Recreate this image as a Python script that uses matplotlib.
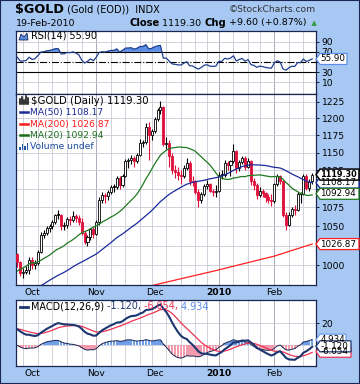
import matplotlib
matplotlib.use("Agg")
import matplotlib.pyplot as plt
import numpy as np
import pandas as pd
from matplotlib.patches import Polygon, Rectangle
from matplotlib.lines import Line2D

W, H = 360, 384

# closes before the visible window (Jul 16 - Sep 23 2009), only used to seed the indicators
pre_closes = [938, 938, 950, 948, 952, 953, 954, 953, 936, 932, 937, 954,
              957, 962, 964, 960, 953, 946, 946, 949, 957, 948, 934, 937, 942, 943, 954,
              948, 943, 945, 948, 956, 953,
              953, 978, 997, 996, 1000, 995, 1006, 1006, 998, 1007, 1020, 1016, 1003,
              1001, 1013, 1014]

holidays = ["2009-11-26", "2009-12-25", "2010-01-01", "2010-01-18", "2010-02-15"]

opens = [1014, 1004, 991, 992, 994, 1007, 1000, 1003, 1017, 1039, 1041, 1048, 1050, 1056,
         1066, 1064, 1050, 1051, 1059, 1058, 1063, 1060, 1056, 1041, 1030, 1036, 1046,
         1040, 1055, 1085, 1091, 1090, 1096, 1103, 1102, 1114, 1105, 1118, 1138, 1140,
         1142, 1138, 1147, 1164, 1165, 1188, 1175,
         1181, 1199, 1212, 1217, 1162, 1164, 1145, 1126, 1123, 1119, 1118, 1128, 1136,
         1110, 1109, 1096, 1085, 1093, 1104, 1106, 1097, 1096,
         1097, 1119, 1119, 1136, 1133, 1138, 1152, 1128, 1137, 1143, 1130, 1139, 1110,
         1105, 1091, 1097, 1094, 1088, 1085,
         1083, 1106, 1118, 1111, 1064, 1052, 1064, 1073, 1071, 1093, 1093, 1117, 1101, 1110]
highs = [1016, 1006, 997, 999, 1011, 1010, 1007, 1019, 1042, 1045, 1050, 1053, 1058, 1066,
         1071, 1066, 1056, 1062, 1063, 1070, 1066, 1064, 1060, 1044, 1039, 1048, 1050,
         1058, 1088, 1095, 1094, 1098, 1105, 1106, 1118, 1117, 1120, 1141, 1143, 1147,
         1146, 1150, 1170, 1168, 1193, 1195, 1185,
         1202, 1215, 1226, 1219, 1173, 1168, 1150, 1133, 1130, 1125, 1132, 1142, 1138,
         1118, 1112, 1100, 1095, 1106, 1112, 1108, 1100, 1105,
         1123, 1125, 1140, 1139, 1140, 1162, 1154, 1140, 1146, 1145, 1142, 1140, 1115,
         1108, 1102, 1100, 1096, 1093, 1092,
         1108, 1120, 1119, 1112, 1068, 1068, 1075, 1078, 1095, 1096, 1120, 1120, 1113, 1122]
lows = [998, 987, 985, 989, 990, 996, 995, 1001, 1015, 1035, 1038, 1042, 1046, 1053,
        1059, 1045, 1045, 1048, 1052, 1056, 1055, 1052, 1038, 1027, 1025, 1032, 1035,
        1038, 1052, 1080, 1080, 1085, 1093, 1096, 1100, 1100, 1102, 1116, 1128, 1134,
        1130, 1135, 1145, 1158, 1163, 1140, 1168,
        1179, 1196, 1206, 1160, 1155, 1130, 1120, 1115, 1112, 1106, 1115, 1125, 1105,
        1104, 1092, 1075, 1080, 1090, 1100, 1095, 1090, 1088,
        1095, 1113, 1116, 1125, 1118, 1136, 1122, 1124, 1134, 1125, 1128, 1105, 1098,
        1086, 1089, 1088, 1082, 1080, 1076,
        1081, 1104, 1106, 1062, 1045, 1050, 1062, 1064, 1070, 1080, 1091, 1098, 1097, 1106]
closes = [1004, 991, 992, 994, 1007, 1000, 1003, 1017, 1039, 1041, 1048, 1050, 1056, 1064,
          1064, 1050, 1051, 1059, 1058, 1063, 1060, 1056, 1041, 1030, 1036, 1046, 1040,
          1055, 1085, 1091, 1090, 1096, 1102, 1102, 1114, 1105, 1118, 1138, 1140, 1142,
          1138, 1147, 1164, 1165, 1188, 1175, 1181,
          1199, 1212, 1217, 1162, 1164, 1145, 1126, 1123, 1119, 1118, 1128, 1136, 1110,
          1109, 1096, 1085, 1093, 1104, 1106, 1097, 1096, 1097,
          1119, 1119, 1136, 1133, 1138, 1152, 1128, 1137, 1143, 1130, 1139, 1110, 1105,
          1091, 1097, 1094, 1088, 1085, 1083,
          1106, 1118, 1111, 1064, 1052, 1064, 1073, 1071, 1093, 1093, 1117, 1101, 1109.7, 1119.3]

# tail of the 200-day average (the part that shows inside the panel)
ma200 = [973.5, 974.3, 975.2, 976.0, 976.9, 977.7, 978.6, 979.4, 980.3, 981.1, 981.9,
         982.8, 983.6, 984.4, 985.3, 986.1, 986.9, 987.8, 988.6, 989.4, 990.3, 991.1,
         991.9, 992.8, 993.6, 994.5, 995.4, 996.3, 997.2, 998.1, 999.0, 999.9, 1000.8,
         1001.7, 1002.6, 1003.5, 1004.4, 1005.3, 1006.2, 1007.1, 1008.0, 1008.9, 1009.8,
         1010.7, 1011.6, 1012.8, 1013.9, 1015.1, 1016.3, 1017.5, 1018.7, 1019.8, 1021.0,
         1022.2, 1023.4, 1024.6, 1025.7, 1026.87]

month_labels = ["Oct", "Nov", "Dec", "2010", "Feb"]
price_ticks = [1000, 1025, 1050, 1075, 1100, 1125, 1150, 1175, 1200, 1225]
price_hidden = [1025, 1100]          # labels sitting under the value tags
rsi_ticks = [10, 30, 50, 70, 90]
macd_ticks = [0, 20]

BG = "#a6c8f2"
NAVY = "#1a2550"
GRID = "#cacad6"
MGRID = "#9c9cae"
RED = "#e0103c"
FONT = 6.6
TAGFONT = 6.3

plt.rcParams["font.family"] = ["DejaVu Sans"]

dates = pd.bdate_range("2009-09-24", "2010-02-19", freq="C", holidays=holidays)
n = len(closes)
x = np.arange(n)

allc = pd.Series(pre_closes + closes, dtype=float)
k = len(pre_closes)
ma20 = allc.rolling(20).mean().to_numpy()[k:]
ma50 = allc.rolling(50).mean().to_numpy()[k:]
delta = allc.diff()
up = delta.clip(lower=0).ewm(alpha=1 / 14, adjust=False).mean()
dn = (-delta.clip(upper=0)).ewm(alpha=1 / 14, adjust=False).mean()
rsi = (100 - 100 / (1 + up / dn)).to_numpy()[k:]
macd = allc.ewm(span=12, adjust=False).mean() - allc.ewm(span=26, adjust=False).mean()
signal = macd.ewm(span=9, adjust=False).mean()
hist = (macd - signal).to_numpy()[k:]
macd = macd.to_numpy()[k:]
signal = signal.to_numpy()[k:]

month_idx = [i for i in range(1, n) if dates[i].month != dates[i - 1].month]
week_idx = [i for i in range(1, n) if dates[i].weekday() < dates[i - 1].weekday()]


def fx(px):
    return px / W


def fy(py):
    return 1 - py / H


fig = plt.figure(figsize=(W / 100, H / 100), dpi=100)
fig.patch.set_facecolor(BG)


def panel(top, bottom):
    ax = fig.add_axes([fx(16), fy(bottom), fx(300), (bottom - top) / H])
    ax.set_facecolor("white")
    for s in ax.spines.values():
        s.set_color(NAVY)
        s.set_linewidth(0.9)
    ax.set_xlim(-0.5, n + 0.3)
    for i in week_idx:
        ax.axvline(i, color=MGRID if i in month_idx else GRID, lw=0.6, zorder=0)
    ax.yaxis.tick_right()
    ax.tick_params(axis="y", which="both", length=2.5, width=0.6, pad=1.5,
                   labelsize=FONT, colors="black")
    ax.tick_params(axis="x", length=0, pad=2, labelsize=FONT)
    return ax


def month_axis(ax):
    ax.set_xticks(month_idx)
    labs = ax.set_xticklabels(month_labels)
    for lab in labs:
        if lab.get_text().isdigit():
            lab.set_fontweight("bold")


def tag(ax, val, text, edge, right=359, bold=False, lw=0.9):
    yd = ax.transData.transform((0, val))[1]
    yp = H - yd
    xr = 316
    h = 5.5
    pts = [(xr, yp), (xr + 4, yp - h), (right, yp - h), (right, yp + h), (xr + 4, yp + h)]
    poly = Polygon([(fx(a), fy(b)) for a, b in pts], closed=True, transform=fig.transFigure,
                   facecolor="white", edgecolor=edge, lw=lw, zorder=10)
    fig.add_artist(poly)
    fig.text(fx(xr + 4.5), fy(yp), text, fontsize=TAGFONT - (0.4 if bold else 0), va="center",
             ha="left", fontweight="bold" if bold else "normal", zorder=11)


def chain(parts, x0, y0):
    r = fig.canvas.get_renderer()
    xp = x0
    for txt, kw in parts:
        t = fig.text(fx(xp), fy(y0), txt, va="center", ha="left", **kw)
        bb = t.get_window_extent(r)
        xp += bb.width


# ---- RSI ----
ax1 = panel(31, 94)
ax1.set_ylim(-13, 111)
ax1.set_yticks(rsi_ticks)
for v in (10, 90):
    ax1.axhline(v, color=GRID, lw=0.6, zorder=0)
ax1.axhline(70, color="black", lw=0.8)
ax1.axhline(30, color="black", lw=0.8)
ax1.axhline(50, color="black", lw=0.8, ls="-.")
ax1.fill_between(x, rsi, 70, where=rsi >= 70, interpolate=True, color="#5b8ee6", lw=0)
ax1.fill_between(x, rsi, 30, where=rsi <= 30, interpolate=True, color="#5b8ee6", lw=0)
ax1.plot(x, rsi, color="#1f3f8f", lw=0.9)
ax1.set_xticks([])
fig.text(fx(31), fy(35.5), "RSI(14) 55.90", fontsize=FONT + 0.3, va="center")
fig.add_artist(Polygon([(fx(a), fy(b)) for a, b in [(19, 40), (21, 34), (24, 37), (27, 33), (28, 40)]],
                       closed=True, transform=fig.transFigure, facecolor="#5b8ee6",
                       edgecolor=NAVY, lw=0.6))

# ---- price ----
ax2 = panel(94, 285)
ax2.set_yscale("log")
ax2.set_ylim(976, 1237)
ax2.yaxis.set_minor_locator(matplotlib.ticker.NullLocator())
ax2.set_yticks(price_ticks, ["" if v in price_hidden else str(v) for v in price_ticks])
for v in price_ticks:
    ax2.axhline(v, color=GRID, lw=0.6, zorder=0)

prev = [pre_closes[-1]] + closes[:-1]
for i in range(n):
    o, h, l, c = opens[i], highs[i], lows[i], closes[i]
    col = "black" if c >= prev[i] else RED
    face = "white" if c > o else col
    ax2.vlines(i, l, h, color=col, lw=0.8, zorder=3)
    lo, hi = min(o, c), max(o, c)
    if hi - lo < 0.8:
        hi = lo + 0.8
    ax2.bar(i, hi - lo, bottom=lo, width=0.7, facecolor=face, edgecolor=col, lw=0.6, zorder=4)

ax2.plot(x, ma20, color="#1f7a1f", lw=0.9, zorder=5)
ax2.plot(x, ma50, color="#1a2a9a", lw=0.9, zorder=5)
ax2.plot(np.arange(n - len(ma200), n), ma200, color="#ff2020", lw=0.9, zorder=5)
month_axis(ax2)

fig.text(fx(31), fy(101), "$GOLD (Daily) 1119.30", fontsize=FONT + 0.7, va="center")
for j, xx in enumerate([20, 22, 24, 26, 28]):
    hgt = [5, 7, 4, 8, 6][j]
    fig.add_artist(Line2D([fx(xx), fx(xx)], [fy(104), fy(104 - hgt)], transform=fig.transFigure,
                          color="black", lw=1.1))
legend_rows = [("MA(50) 1108.17", "#1a2a9a", 112), ("MA(200) 1026.87", "#ff1a1a", 124),
               ("MA(20) 1092.94", "#1a6e1a", 135.5)]
for txt, col, yy in legend_rows:
    fig.add_artist(Line2D([fx(20), fx(28)], [fy(yy), fy(yy)], transform=fig.transFigure,
                          color=col, lw=1.8))
    fig.text(fx(30), fy(yy), txt, fontsize=FONT, color=col, va="center")
for j, xx in enumerate([20, 22.5, 25, 27.5]):
    hgt = [3, 6, 4, 7][j]
    fig.add_artist(Rectangle((fx(xx - 0.9), fy(150)), fx(1.8), hgt / H, transform=fig.transFigure,
                             facecolor="#2255aa", lw=0))
fig.text(fx(30), fy(146.5), "Volume undef", fontsize=FONT, color="#1a4a9a", va="center")

# ---- MACD ----
ax3 = panel(300, 366)
ax3.set_ylim(-19, 41)
ax3.set_yticks(macd_ticks, ["", "20"])
for v in macd_ticks:
    ax3.axhline(v, color=GRID, lw=0.6, zorder=0)
ax3.bar(x, hist, width=0.8, color=np.where(hist >= 0, "#6f9fe8", "#f39aac"), lw=0, zorder=2)
ax3.plot(x, hist, color=NAVY, lw=0.7, zorder=3)
ax3.plot(x, signal, color="#ee3355", lw=0.9, zorder=4)
ax3.plot(x, macd, color="#1c3670", lw=1.5, zorder=5)
month_axis(ax3)
fig.add_artist(Line2D([fx(20), fx(28)], [fy(306.5), fy(306.5)], transform=fig.transFigure,
                      color="#1c3670", lw=2))
chain([("MACD(12,26,9)", dict(fontsize=FONT + 0.3)),
       (" -1.120,", dict(fontsize=FONT + 0.3, color="#1c3670")),
       (" -6.054,", dict(fontsize=FONT + 0.3, color="#ee3355")),
       (" 4.934", dict(fontsize=FONT + 0.3, color="#5b8ee6"))], 31, 306.5)

# ---- value tags ----
tag(ax1, 55.90, "55.90", "#5b8ee6", right=347)
tag(ax2, 1026.87, "1026.87", "#ff2020")
tag(ax2, 1108.17, "1108.17", "#1a2a9a")
tag(ax2, 1092.94, "1092.94", "#1f7a1f")
tag(ax2, 1119.30, "1119.30", "black", bold=True, lw=1.1)
tag(ax3, -6.054, "-6.054", "#ee3355", right=351)
tag(ax3, 4.934, "4.934", "#6f9fe8", right=346)
tag(ax3, -1.120, "-1.120", "#1c3670", right=351)

# ---- header ----
chain([("$GOLD", dict(fontsize=9.2, fontweight="bold")),
       (" (Gold (EOD))", dict(fontsize=7)),
       ("  INDX", dict(fontsize=7))], 15, 10)
fig.text(fx(316), fy(10), "\u00a9StockCharts.com", fontsize=6.6, ha="right", va="center", color="#333333")
fig.text(fx(16), fy(23), "19-Feb-2010", fontsize=6.8, va="center")
chain([("Close", dict(fontsize=7.2, fontweight="bold")),
       (" 1119.30 ", dict(fontsize=6.8)),
       ("Chg", dict(fontsize=7.2, fontweight="bold")),
       (" +9.60 (+0.87%)", dict(fontsize=6.8)),
       ("  \u25b2", dict(fontsize=5, color="#2e9a3a"))], 129, 23)

fig.add_artist(Rectangle((0, 0), 1, 1, transform=fig.transFigure, fill=False,
                         edgecolor=NAVY, lw=1.5))

fig.savefig("out.png", dpi=100, facecolor=BG)
